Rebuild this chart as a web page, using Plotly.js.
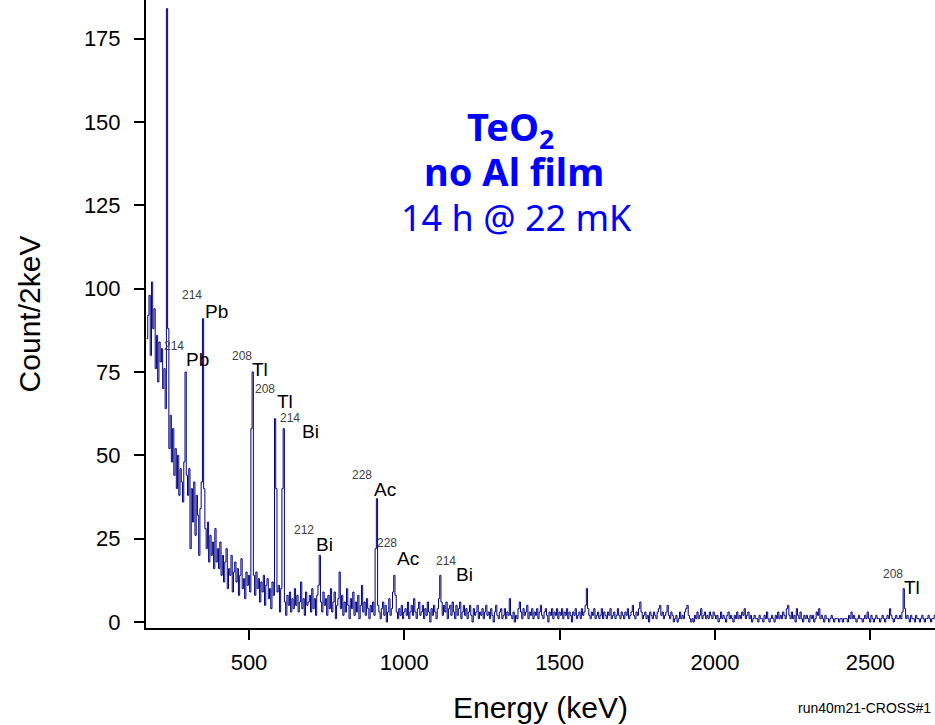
<!DOCTYPE html>
<html>
<head>
<meta charset="utf-8">
<script src="https://cdn.plot.ly/plotly-3.0.1.min.js"></script>
<style>html,body{margin:0;padding:0;background:#fff;}#chart{width:935px;height:725px;}</style>
</head>
<body>
<div id="chart"></div>
<script>
// Spectrum: counts per 2 keV in 4 keV steps starting at 170 keV
const binStartKeV = 170;
const binStepKeV = 4;

const counts_170_398 = [
  85,92,98,80,102,88,94,76,86,72,
  84,78,82,70,76,64,184,88,52,62,
  48,58,44,52,40,50,38,46,42,36,
  48,75,44,38,46,22,40,30,42,26,
  38,32,20,34,42,91,40,28,22,30,
  18,26,20,24,16,28,18,22
];
const counts_402_698 = [
  16,24,14,20,12,18,22,10,16,14,
  20,9,15,18,12,16,8,14,19,10,
  13,7,15,11,14,9,58,75,14,8,
  15,10,13,6,12,9,14,5,11,13,
  7,10,4,12,8,61,40,9,11,3,
  10,40,58,6,2,8,5,9,3,7,
  4,10,5,8,3,6,12,4,7,2,
  9,5,6,8,3
];
const counts_702_998 = [
  10,4,7,2,8,11,20,6,3,9,
  5,7,2,8,4,10,3,6,9,1,
  5,7,15,4,8,2,6,3,10,5,
  1,7,4,9,2,6,3,8,1,5,
  11,3,6,2,7,4,1,5,3,6,
  2,22,37,5,3,1,4,6,2,5,
  0,3,7,2,4,9,14,8,3,1,
  4,2,5,1,3
];
const counts_1002_1498 = [
  4,2,6,1,3,5,2,7,3,1,
  4,6,2,3,5,1,4,2,6,3,
  0,4,2,5,3,1,4,7,14,6,
  2,5,3,6,1,4,5,2,6,3,
  1,5,2,4,6,1,3,5,2,4,
  1,3,5,2,0,4,2,3,5,1,
  3,2,4,1,3,5,2,3,1,4,
  2,0,3,5,2,1,3,4,1,2,
  4,1,3,2,7,2,1,3,0,2,
  1,4,6,3,1,4,2,3,5,1,
  3,2,4,1,3,2,4,1,3,5,
  2,1,3,4,2,0,3,2,4,1,
  3,2,4,1,3
];
const counts_1502_1998 = [
  2,4,1,3,2,4,1,3,2,0,
  3,2,4,1,2,3,1,4,2,3,
  5,10,4,2,1,3,2,4,1,2,
  3,1,2,4,1,3,2,1,3,2,
  4,1,2,3,1,2,4,2,1,3,
  2,1,3,2,4,1,2,3,5,2,
  1,3,2,4,6,3,1,2,3,1,
  2,0,3,2,1,3,2,1,3,4,
  5,2,3,1,2,3,5,2,1,3,
  2,0,1,2,0,1,3,1,2,1,
  3,4,5,2,1,0,1,0,2,1,
  3,1,2,4,1,2,3,1,2,1,
  3,2,1,3,2
];
const counts_2002_2710 = [
  1,2,0,1,3,1,2,1,0,2,
  3,1,2,1,0,2,1,3,1,2,
  1,3,2,4,1,2,3,1,2,0,
  1,2,1,1,0,2,1,1,0,2,
  1,3,1,0,1,2,1,0,2,1,
  3,1,2,1,3,2,1,4,5,2,
  1,3,1,2,0,4,2,1,3,1,
  0,2,1,2,1,0,2,1,2,0,
  1,3,2,4,1,2,1,0,2,1,
  1,0,1,2,1,0,1,1,1,0,
  1,1,0,1,1,1,0,2,1,3,
  1,2,1,0,1,2,1,1,0,1,
  2,1,3,1,0,2,1,0,1,2,
  1,1,0,1,2,1,0,1,2,1,
  4,2,1,0,1,2,1,1,2,1,
  3,10,4,1,2,1,0,2,1,1,
  0,2,1,1,0,1,2,1,0,1,
  1,2,1,0,1,1,2,1
];

const xTickVals = [500, 1000, 1500, 2000, 2500];
const yTickVals = [0, 25, 50, 75, 100, 125, 150, 175];

// Peak labels
const isotopeMass = ['214','214','208','208','214','212','228','228','214','208'];
const isotopeElem = ['Pb','Pb','Tl','Tl','Bi','Bi','Ac','Ac','Bi','Tl'];
// label anchor positions in data units (keV, counts): mass number and element symbol
const massPos = [[318,98.2],[260,82.8],[477.5,79.8],[551.5,69.9],[633.6,61.3],[677,27.6],[865.4,44.1],[942.7,23.7],[1132.7,18.3],[2571.8,14.4]];
const elemPos = [[393.8,93.3],[334.2,78.75],[537,75.9],[614.3,66.2],[698,57.3],[741.5,23.4],[936.3,39.9],[1013.5,19.2],[1193.8,14.25],[2634.6,10.35]];

const titleLines = ['<b>TeO<sub>2</sub></b>', '<b>no Al film</b>', '14 h @ 22 mK'];
const runLabel = 'run40m21-CROSS#1';

const counts = counts_170_398.concat(counts_402_698, counts_702_998, counts_1002_1498, counts_1502_1998, counts_2002_2710);

const trace = {
  type: 'scatter',
  mode: 'lines',
  x0: binStartKeV,
  dx: binStepKeV,
  y: counts,
  line: {shape: 'hv', color: '#000080', width: 1},
  hoverinfo: 'x+y',
  showlegend: false
};

const sans = 'Liberation Sans, Arial, sans-serif';
const annotations = [];
for (let i = 0; i < isotopeMass.length; i++) {
  annotations.push({x: massPos[i][0], y: massPos[i][1], xref: 'x', yref: 'y', text: isotopeMass[i],
    showarrow: false, xanchor: 'center', yanchor: 'middle', font: {family: sans, size: 12, color: '#404040'}});
  annotations.push({x: elemPos[i][0], y: elemPos[i][1], xref: 'x', yref: 'y', text: isotopeElem[i],
    showarrow: false, xanchor: 'center', yanchor: 'middle', font: {family: sans, size: 19, color: '#000'}});
}
const titleX = [0.4626, 0.467, 0.470];
const titleY = [0.796, 0.728, 0.653];
const titleSize = [38, 38, 36];
titleLines.forEach((t, i) => {
  annotations.push({x: titleX[i], y: titleY[i], xref: 'paper', yref: 'paper', text: t, showarrow: false,
    xanchor: 'center', yanchor: 'middle', font: {family: 'Noto Sans, sans-serif', size: titleSize[i], color: '#0000ff'}});
});
annotations.push({x: 0.9975, y: -0.1274, xref: 'paper', yref: 'paper', text: runLabel, showarrow: false,
  xanchor: 'right', yanchor: 'middle', font: {family: sans, size: 14, color: '#000'}});

const axisCommon = {
  showline: true, linecolor: '#000', linewidth: 2,
  ticks: 'outside', ticklen: 10, tickwidth: 2, tickcolor: '#000',
  ticklabelposition: 'outside',
  showgrid: false, zeroline: false,
  tickfont: {family: sans, size: 22, color: '#000'}
};

const layout = {
  width: 935, height: 725,
  margin: {l: 146, r: 0, t: 0, b: 97, pad: 0},
  paper_bgcolor: '#fff', plot_bgcolor: '#fff',
  xaxis: Object.assign({}, axisCommon, {
    range: [168.4, 2708.6], tickvals: xTickVals, ticklabelstandoff: 4,
    title: {text: 'Energy (keV)', font: {family: sans, size: 30, color: '#000'}, standoff: 23}
  }),
  yaxis: Object.assign({}, axisCommon, {
    range: [-1.8, 186.6], tickvals: yTickVals, ticklabelstandoff: 9,
    title: {text: 'Count/2keV', font: {family: sans, size: 30, color: '#000'}, standoff: 34}
  }),
  annotations: annotations
};

Plotly.newPlot('chart', [trace], layout, {displayModeBar: false, staticPlot: true});
</script>
</body>
</html>
